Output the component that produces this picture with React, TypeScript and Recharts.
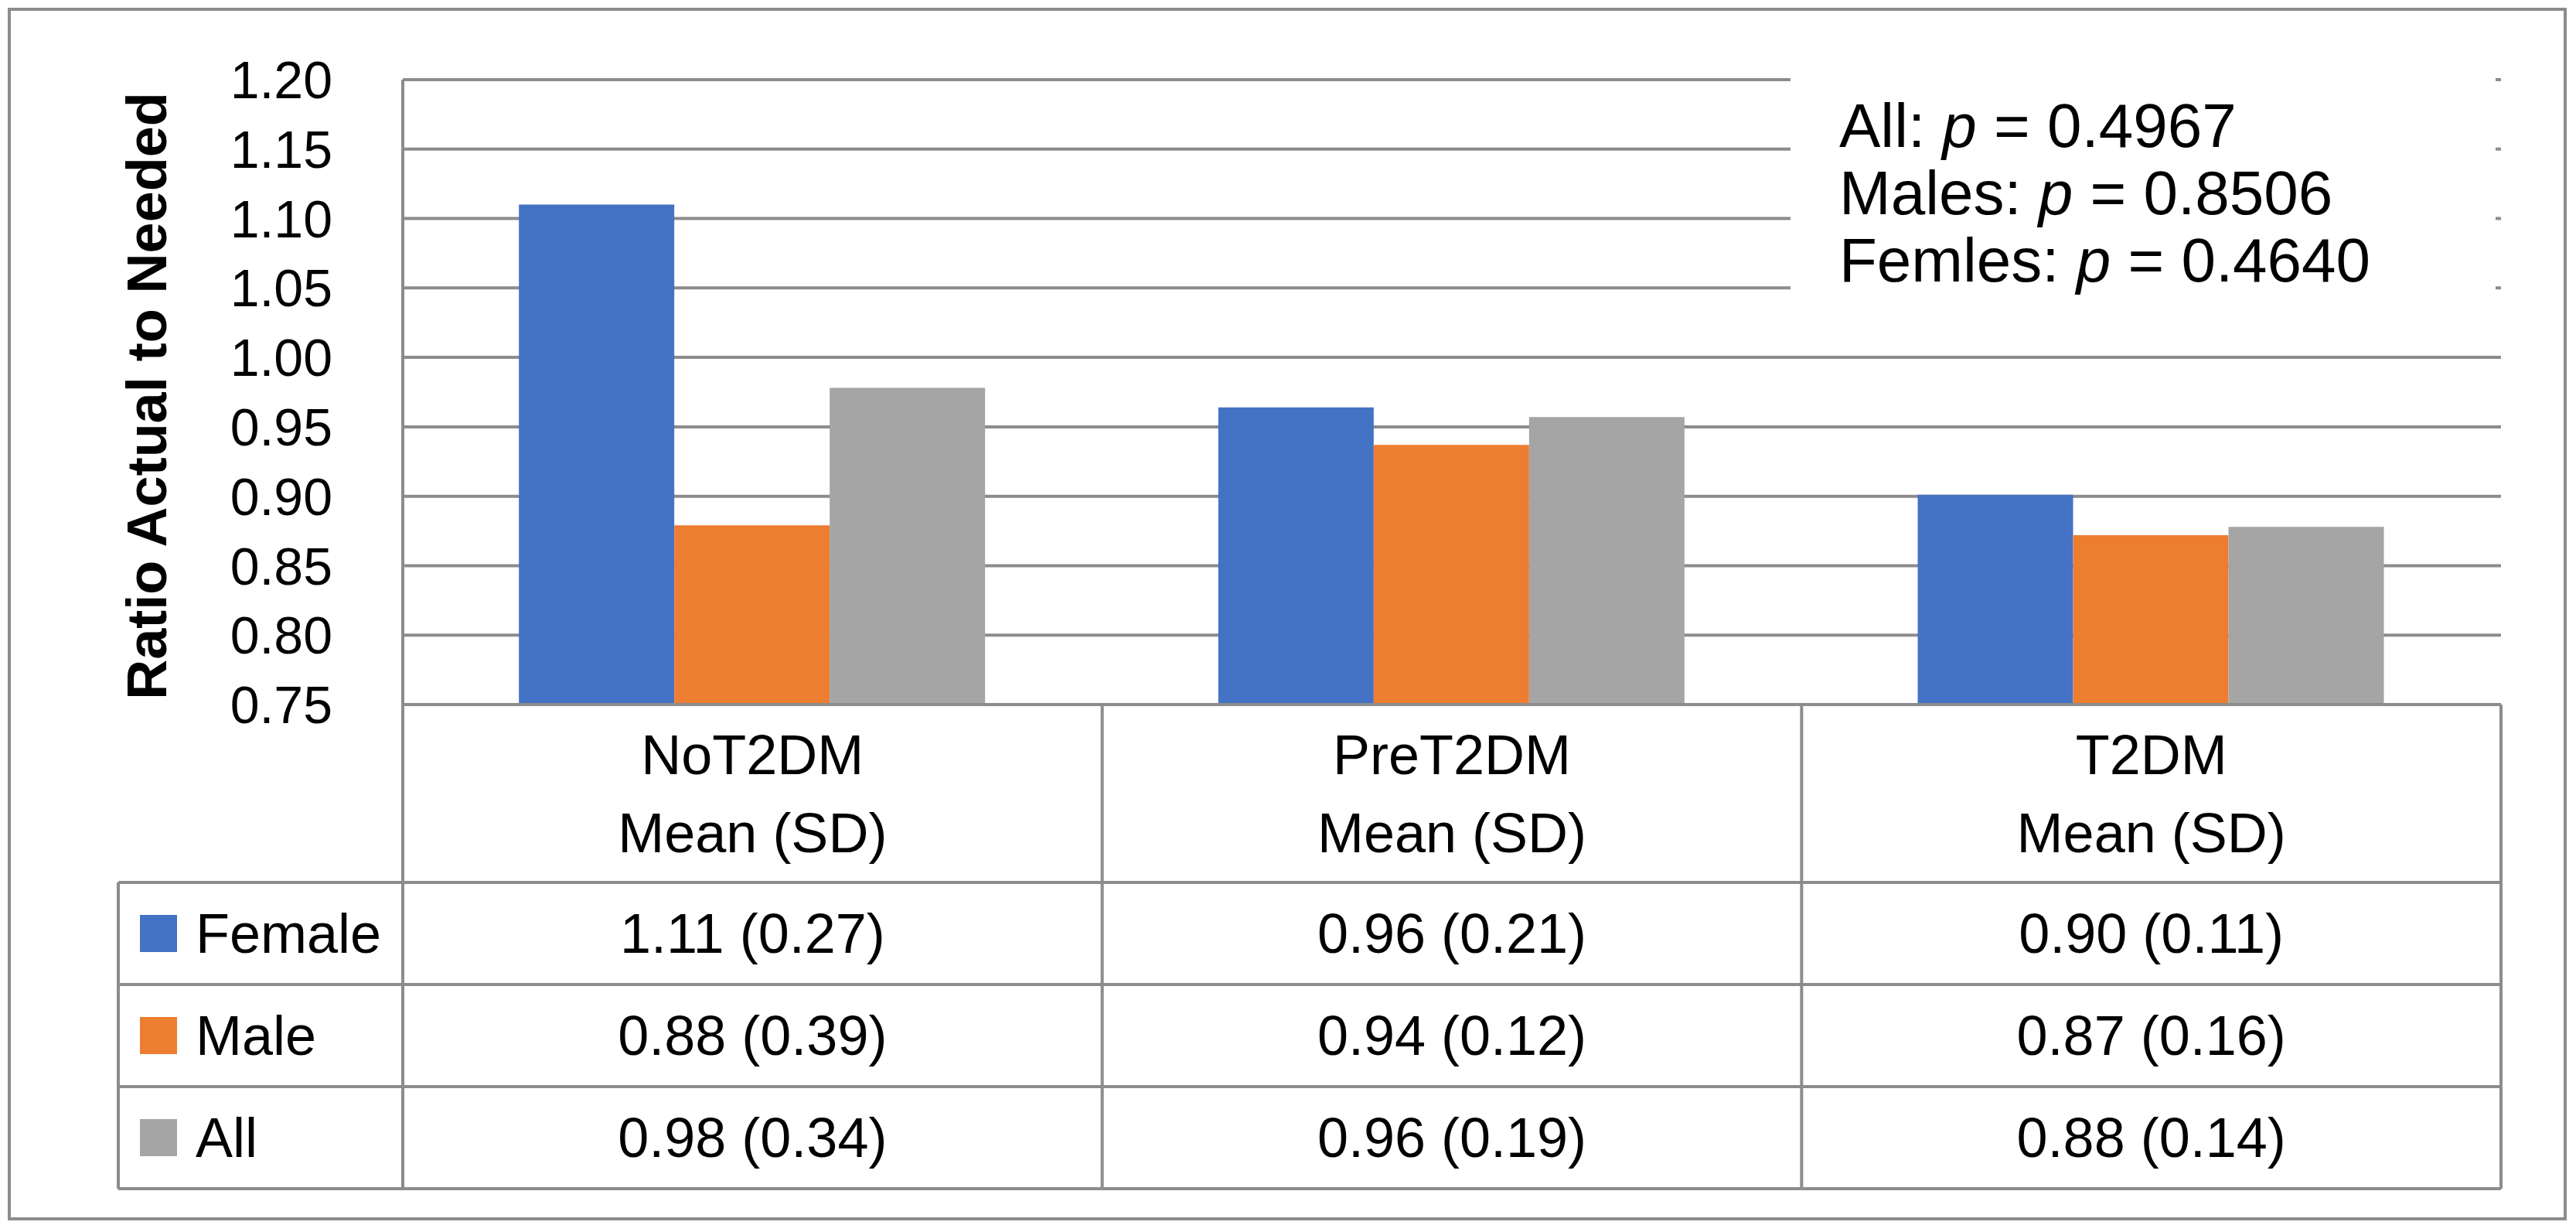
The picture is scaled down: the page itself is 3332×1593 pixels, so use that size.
import { BarChart, Bar, XAxis, YAxis, CartesianGrid, Customized } from 'recharts';

// categories and bar heights
const categories = ['NoT2DM', 'PreT2DM', 'T2DM'];
const femaleValues = [1.11, 0.964, 0.901];
const maleValues = [0.879, 0.937, 0.872];
const allValues = [0.978, 0.957, 0.878];
const yTicks = [0.75, 0.8, 0.85, 0.9, 0.95, 1.0, 1.05, 1.1, 1.15, 1.2];

// data table under the chart
const femaleTable = ['1.11 (0.27)', '0.96 (0.21)', '0.90 (0.11)'];
const maleTable = ['0.88 (0.39)', '0.94 (0.12)', '0.87 (0.16)'];
const allTable = ['0.98 (0.34)', '0.96 (0.19)', '0.88 (0.14)'];

// p-value annotation
const pLabels = ['All', 'Males', 'Femles'];
const pValues = ['0.4967', '0.8506', '0.4640'];

const seriesNames = ['Female', 'Male', 'All'];
const COLORS = ['#4472C4', '#ED7D31', '#A5A5A5'];
const tableRows = [femaleTable, maleTable, allTable];

const data = categories.map((name, i) => ({
  name,
  Female: femaleValues[i],
  Male: maleValues[i],
  All: allValues[i],
}));

const W = 3332;
const H = 1593;
const PLOT_L = 521;
const PLOT_R = 3235;
const PLOT_T = 103;
const PLOT_B = 911;
const BAND = (PLOT_R - PLOT_L) / categories.length;
const ROW_Y = [1141, 1273, 1405, 1537];
const TABLE_L = 153;
const LINE = '#8c8c8c';
const LW = 4;
const FONT = "'Liberation Sans', Arial, sans-serif";

const CategoryTick = (props: any) => {
  const { x, payload } = props;
  const i = props.index ?? payload?.index ?? categories.indexOf(payload.value);
  const left = x - BAND / 2;
  const right = x + BAND / 2;
  return (
    <g>
      <text x={x} y={PLOT_B + 90} textAnchor="middle" fontSize={72} fontFamily={FONT} fill="#000">
        {payload.value}
      </text>
      <text x={x} y={PLOT_B + 191} textAnchor="middle" fontSize={72} fontFamily={FONT} fill="#000">
        Mean (SD)
      </text>
      {ROW_Y.map((ry) => (
        <line key={ry} x1={left} x2={right} y1={ry} y2={ry} stroke={LINE} strokeWidth={LW} />
      ))}
      <line x1={right} x2={right} y1={PLOT_B} y2={ROW_Y[3]} stroke={LINE} strokeWidth={LW} />
      {i === 0 && <line x1={left} x2={left} y1={PLOT_B} y2={ROW_Y[3]} stroke={LINE} strokeWidth={LW} />}
      {tableRows.map((row, r) => (
        <text key={r} x={x} y={(ROW_Y[r] + ROW_Y[r + 1]) / 2 + 25} textAnchor="middle" fontSize={72} fontFamily={FONT} fill="#000">
          {row[i]}
        </text>
      ))}
      {i === 0 && (
        <g>
          {ROW_Y.map((ry) => (
            <line key={ry} x1={TABLE_L} x2={left} y1={ry} y2={ry} stroke={LINE} strokeWidth={LW} />
          ))}
          <line x1={TABLE_L} x2={TABLE_L} y1={ROW_Y[0]} y2={ROW_Y[3]} stroke={LINE} strokeWidth={LW} />
          {seriesNames.map((s, r) => {
            const cy = (ROW_Y[r] + ROW_Y[r + 1]) / 2;
            return (
              <g key={s}>
                <rect x={181} y={cy - 24} width={48} height={48} fill={COLORS[r]} />
                <text x={253} y={cy + 25} fontSize={72} fontFamily={FONT} fill="#000">
                  {s}
                </text>
              </g>
            );
          })}
        </g>
      )}
    </g>
  );
};

const Decorations = () => (
  <g>
    <rect x={12} y={12} width={3306} height={1564} fill="none" stroke={LINE} strokeWidth={LW} />
    <text
      x={215}
      y={512}
      transform="rotate(-90, 215, 512)"
      textAnchor="middle"
      fontSize={72}
      fontWeight="bold"
      fontFamily={FONT}
      fill="#000"
    >
      Ratio Actual to Needed
    </text>
    <rect x={2316} y={92} width={912} height={330} fill="#fff" />
    {pLabels.map((lab, i) => (
      <text key={lab} x={2379} y={190 + i * 87} fontSize={80} fontFamily={FONT} fill="#000">
        {lab}: <tspan fontStyle="italic">p</tspan> = {pValues[i]}
      </text>
    ))}
  </g>
);

export default function App() {
  return (
    <div style={{ position: 'absolute', left: 0, top: 0, width: W, height: H, background: '#fff' }}>
      <BarChart
        width={W}
        height={H}
        data={data}
        margin={{ top: PLOT_T, right: W - PLOT_R, left: 0, bottom: 0 }}
        barCategoryGap="16.6%"
        barGap={0}
      >
        <CartesianGrid vertical={false} stroke={LINE} strokeWidth={LW} />
        <XAxis
          dataKey="name"
          height={H - PLOT_B}
          interval={0}
          tickSize={0}
          tickMargin={0}
          axisLine={{ stroke: LINE, strokeWidth: LW }}
          tick={<CategoryTick />}
        />
        <YAxis
          width={PLOT_L}
          domain={[0.75, 1.2]}
          ticks={yTicks}
          interval={0}
          allowDataOverflow
          tickSize={0}
          tickMargin={91}
          tickFormatter={(v: number) => v.toFixed(2)}
          axisLine={{ stroke: LINE, strokeWidth: LW }}
          tick={{ fontSize: 68, fontFamily: FONT, fill: '#000' }}
        />
        {seriesNames.map((s, k) => (
          <Bar key={s} dataKey={s} fill={COLORS[k]} isAnimationActive={false} />
        ))}
        <Customized component={Decorations} />
      </BarChart>
    </div>
  );
}
